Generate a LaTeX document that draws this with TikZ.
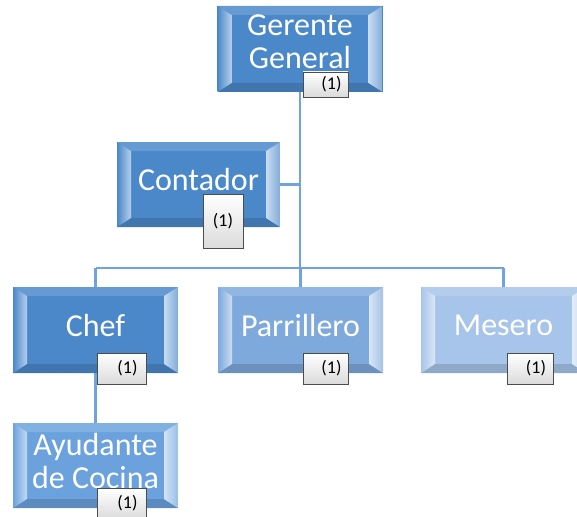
\documentclass[tikz,border=0pt]{standalone}
\usepackage{fontspec}
\setmainfont{Carlito}
\usetikzlibrary{backgrounds}
\definecolor{cA}{HTML}{4A88CA}
\definecolor{cB}{HTML}{7EA9DD}
\definecolor{cC}{HTML}{A7C4EA}
\definecolor{cD}{HTML}{6BA2DE}
\definecolor{lineC}{HTML}{6FA3DE}
\tikzset{
 bevel/.style={rectangle, inner sep=0pt, minimum width=165pt, minimum height=86pt,
  fill=#1, text=white, align=center, text depth=10pt,
  font=\fontsize{32}{33}\selectfont,
  path picture={
   \coordinate (NW) at (path picture bounding box.north west);
   \coordinate (NE) at (path picture bounding box.north east);
   \coordinate (SW) at (path picture bounding box.south west);
   \coordinate (SE) at (path picture bounding box.south east);
   \fill[#1!85!white] (NW) -- (NE) -- ([xshift=-14pt,yshift=-9pt]NE) -- ([xshift=14pt,yshift=-9pt]NW) -- cycle;
   \fill[#1!86!black] (SW) -- (SE) -- ([xshift=-14pt,yshift=9pt]SE) -- ([xshift=14pt,yshift=9pt]SW) -- cycle;
   \shade[left color=#1, right color=#1!40!white] (NW) -- ([xshift=14pt,yshift=-9pt]NW) -- ([xshift=14pt,yshift=9pt]SW) -- (SW) -- cycle;
   \shade[left color=#1!30!white, right color=#1!70!white] (NE) -- ([xshift=-14pt,yshift=-9pt]NE) -- ([xshift=-14pt,yshift=9pt]SE) -- (SE) -- cycle;
  }},
 onebox/.style={rectangle, draw=black!70, line width=0.8pt, inner sep=0pt,
  top color=white, bottom color=black!14, text=black,
  font=\fontsize{18}{20}\selectfont},
 link/.style={draw=lineC, line width=2.5pt}
}
\begin{document}
\begin{tikzpicture}[x=1pt,y=-1pt]
\useasboundingbox (0,0) rectangle (577,516);
\node[bevel=cA, text depth=15pt] (ger) at (300,49) {Gerente\\General};
\node[bevel=cA, minimum width=163pt, minimum height=85pt] (con) at (198.5,184.5) {Contador};
\node[bevel=cA] (chef) at (95.5,330) {Chef};
\node[bevel=cB] (par) at (300.5,330) {Parrillero};
\node[bevel=cC] (mes) at (503.5,330) {Mesero};
\node[bevel=cD, minimum height=85pt] (ayu) at (95.5,465.5) {Ayudante\\de Cocina};
\coordinate (bus) at (300,268);
\begin{pgfonlayer}{background}
\draw[link] (ger.south) -- (ger.south |- bus);
\draw[link] (con.east) -- (con.east -| ger.south);
\draw[link] (chef.north |- bus) -- (mes.north |- bus);
\draw[link] (chef.north |- bus) -- (chef.north);
\draw[link] (par.north |- bus) -- (par.north);
\draw[link] (mes.north |- bus) -- (mes.north);
\draw[link] (chef.south) -- (ayu.north);
\end{pgfonlayer}
\node[onebox, minimum width=45pt, minimum height=25pt] (n1) at (325.5,84.5) {\hspace*{12pt}(1)};
\node[onebox, minimum width=40pt, minimum height=54pt] (n2) at (223,221) {(1)};
\node[onebox, minimum width=49pt, minimum height=31pt] (n3) at (121.5,368.5) {\hspace*{12pt}(1)};
\node[onebox, minimum width=45pt, minimum height=31pt] (n4) at (325.5,368.5) {\hspace*{12pt}(1)};
\node[onebox, minimum width=46pt, minimum height=31pt] (n5) at (530,368.5) {\hspace*{12pt}(1)};
\node[onebox, minimum width=49pt, minimum height=31pt] (n6) at (121.5,503.5) {\hspace*{12pt}(1)};
\end{tikzpicture}
\end{document}
